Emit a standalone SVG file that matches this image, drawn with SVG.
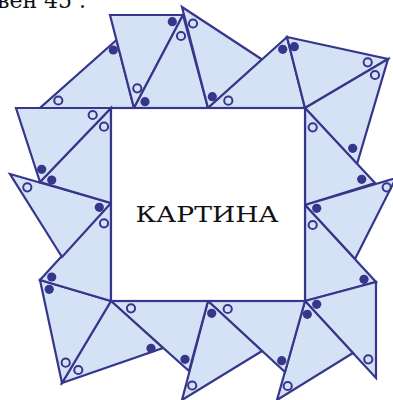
<svg xmlns="http://www.w3.org/2000/svg" width="393" height="400" viewBox="0 0 393 400">
<style>
.t{fill:#d5e1f4;stroke:#36368a;stroke-width:2.2;stroke-linejoin:miter}
.sq{fill:#ffffff;stroke:#36368a;stroke-width:2.2}
.f{fill:#36368a}
.o{fill:none;stroke:#36368a;stroke-width:2}
.lbl{font-family:"DejaVu Serif","Liberation Serif",serif;fill:#111111}
</style>
<rect width="393" height="400" fill="#ffffff"/>
<text class="lbl" x="-3" y="8" font-size="22">вен 45 .</text>
<g id="triangles">
<g id="tA"><polygon class="t" points="40,108 134,108 116.5,40"/></g>
<g id="tB"><polygon class="t" points="110,15 183,15 134,108"/></g>
<g id="tB2"><polygon class="t" points="134,108 183,15 208,108"/></g>
<g id="tC"><polygon class="t" points="182,7 262,59.5 208,108"/></g>
<g id="tD"><polygon class="t" points="208,108 287,37 305,108"/></g>
<g id="tE"><polygon class="t" points="287,37 388,59 305,108"/></g>
<g id="tF"><polygon class="t" points="305,108 388,59 357,164"/></g>
<g id="tG"><polygon class="t" points="305,108 375,183 305,205"/></g>
<g id="tH"><polygon class="t" points="305,205 396,178 355,259"/></g>
<g id="tI"><polygon class="t" points="305,205 376,282 305,301"/></g>
<g id="tJ"><polygon class="t" points="305,301 376,282 376,378"/></g>
<g id="tK"><polygon class="t" points="305,301 353,353 277,400"/></g>
<g id="tL"><polygon class="t" points="208,301 305,301 285,372"/></g>
<g id="tM"><polygon class="t" points="208,301 262,351 182,400"/></g>
<g id="tN"><polygon class="t" points="111,301 208,301 189,371"/></g>
<g id="tO"><polygon class="t" points="111,301 163,348 62,383"/></g>
<g id="tP"><polygon class="t" points="40,280 111,301 62,383"/></g>
<g id="tQ"><polygon class="t" points="40,280 111,202 111,301"/></g>
<g id="tR"><polygon class="t" points="10,174 111,203 62,257"/></g>
<g id="tS"><polygon class="t" points="40,182 111,108 111,203"/></g>
<g id="tT"><polygon class="t" points="16,108 111,108 40,182"/></g>
</g>
<g id="picture">
<rect class="sq" x="111" y="108" width="194" height="193"/>
<text class="lbl" x="207" y="222" font-size="22" text-anchor="middle" textLength="143" lengthAdjust="spacingAndGlyphs">КАРТИНА</text>
</g>
<g id="marks">
<circle class="f" cx="113.3" cy="50" r="4.6"/>
<circle class="o" cx="58.3" cy="100.5" r="4.1"/>
<circle class="o" cx="137.3" cy="88.3" r="4.1"/>
<circle class="f" cx="172.3" cy="21.7" r="4.6"/>
<circle class="f" cx="145" cy="101.7" r="4.6"/>
<circle class="o" cx="181" cy="36" r="4.1"/>
<circle class="o" cx="193" cy="23.5" r="4.1"/>
<circle class="f" cx="212.3" cy="96.7" r="4.6"/>
<circle class="o" cx="228.3" cy="100.7" r="4.1"/>
<circle class="f" cx="282.7" cy="49.3" r="4.6"/>
<circle class="f" cx="294.3" cy="46.7" r="4.6"/>
<circle class="o" cx="367.7" cy="62.3" r="4.1"/>
<circle class="o" cx="375" cy="75" r="4.1"/>
<circle class="f" cx="352.7" cy="148.3" r="4.6"/>
<circle class="o" cx="312.7" cy="127.3" r="4.1"/>
<circle class="f" cx="361.7" cy="179.3" r="4.6"/>
<circle class="f" cx="316.7" cy="208.3" r="4.6"/>
<circle class="o" cx="386.7" cy="187.3" r="4.1"/>
<circle class="o" cx="312.7" cy="225" r="4.1"/>
<circle class="f" cx="364" cy="279.3" r="4.6"/>
<circle class="f" cx="316.7" cy="304.3" r="4.6"/>
<circle class="o" cx="368.3" cy="359.3" r="4.1"/>
<circle class="f" cx="307.3" cy="314.3" r="4.6"/>
<circle class="o" cx="287.7" cy="386" r="4.1"/>
<circle class="f" cx="281.7" cy="360.7" r="4.6"/>
<circle class="o" cx="227.7" cy="309" r="4.1"/>
<circle class="f" cx="211.7" cy="313.3" r="4.6"/>
<circle class="f" cx="185" cy="359.3" r="4.6"/>
<circle class="o" cx="192.2" cy="385.5" r="4.1"/>
<circle class="o" cx="131" cy="308.3" r="4.1"/>
<circle class="f" cx="151" cy="348.3" r="4.6"/>
<circle class="o" cx="78.3" cy="370" r="4.1"/>
<circle class="o" cx="65.7" cy="362.7" r="4.1"/>
<circle class="f" cx="49.2" cy="289.3" r="4.6"/>
<circle class="f" cx="51.7" cy="277" r="4.6"/>
<circle class="o" cx="104" cy="223.3" r="4.1"/>
<circle class="f" cx="99.3" cy="207.3" r="4.6"/>
<circle class="o" cx="27.3" cy="187.3" r="4.1"/>
<circle class="f" cx="51.7" cy="180" r="4.6"/>
<circle class="o" cx="104" cy="126.7" r="4.1"/>
<circle class="f" cx="41.7" cy="169.3" r="4.6"/>
<circle class="o" cx="92.7" cy="115" r="4.1"/>
</g>
</svg>
